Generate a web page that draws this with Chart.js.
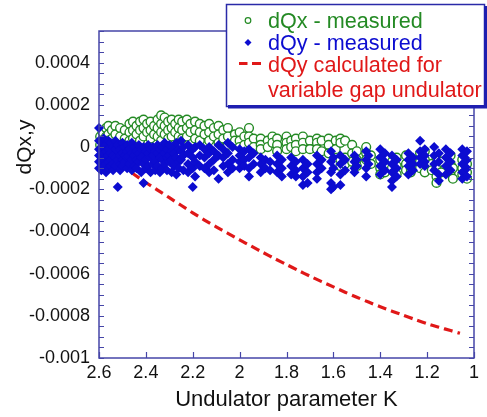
<!DOCTYPE html>
<html>
<head>
<meta charset="utf-8">
<script src="https://cdn.jsdelivr.net/npm/chart.js@4/dist/chart.umd.min.js"></script>
<style>
html,body{margin:0;padding:0;background:#fff;}
#wrap{width:487px;height:417px;position:relative;}
</style>
</head>
<body>
<div id="wrap"><canvas id="c" width="487" height="417"></canvas></div>
<script>
// ---- data ----
const xTicks = [2.6, 2.4, 2.2, 2.0, 1.8, 1.6, 1.4, 1.2, 1.0];
const yTicks = [0.0004, 0.0002, 0, -0.0002, -0.0004, -0.0006, -0.0008, -0.001];

// dQx measured: K columns and the values measured at each
const dqxK = [2.595,2.585,2.57,2.56,2.545,2.53,2.51,2.49,2.47,2.455,2.44,2.425,2.41,2.395,2.38,2.365,2.35,2.335,2.32,2.305,2.29,2.275,2.26,2.245,2.225,2.21,2.19,2.17,2.15,2.13,2.11,2.09,2.07,2.05,2.02,2.0,1.98,1.96,1.94,1.91,1.88,1.86,1.84,1.80,1.78,1.76,1.73,1.70,1.67,1.65,1.62,1.59,1.57,1.55,1.52,1.50,1.46,1.44,1.40,1.38,1.35,1.33,1.29,1.27,1.23,1.21,1.18,1.16,1.14,1.10,1.09,1.05,1.03];
const dqxVals = [
 [5e-5,1e-5],[7e-5,3e-5,0],[9e-5,5e-5,2e-5],[10e-5,6e-5,3e-5],[8e-5,4e-5],[10e-5,6e-5,2e-5],[9e-5,5e-5],[8e-5,4e-5,1e-5],
 [11e-5,7e-5,3e-5],[12e-5,8e-5,4e-5],[10e-5,6e-5],[12e-5,8e-5,3e-5],[13e-5,9e-5,5e-5],[11e-5,7e-5],[12e-5,8e-5,4e-5],[10e-5,6e-5],
 [13e-5,9e-5,5e-5],[15e-5,11e-5,7e-5,3e-5],[14e-5,10e-5,6e-5],[12e-5,8e-5,4e-5],[13e-5,9e-5,5e-5],[11e-5,7e-5],[13e-5,9e-5,5e-5],[12e-5,8e-5,4e-5],
 [13e-5,9e-5,5e-5],[11e-5,7e-5],[12e-5,8e-5,4e-5],[11e-5,7e-5,3e-5],[10e-5,6e-5],[11e-5,7e-5,3e-5],[9e-5,5e-5],[10e-5,6e-5,2e-5],
 [8e-5,4e-5],[9e-5,5e-5,1e-5],[6e-5,3e-5],[7e-5,3e-5,0],[5e-5,1e-5],[9e-5,5e-5,2e-5],[4e-5,0],[4e-5,1e-5,-1e-5],
 [3e-5,0],[5e-5,2e-5],[4e-5,1e-5,-2e-5],[5e-5,2e-5,-1e-5],[3e-5,0],[4e-5,1e-5,-2e-5],[5e-5,2e-5,-1e-5],[3e-5,-1e-5],
 [4e-5,2e-5,-1e-5],[3e-5,-2e-5],[4e-5,1e-5,-3e-5],[3e-5,-1e-5],[4e-5,2e-5,-6e-5,-9e-5],[3e-5,-5e-5,-8e-5],[1e-5,-3e-5,-7e-5],[-2e-5,-6e-5,-9e-5],
 [0,-3e-5,-6e-5],[-4e-5,-8e-5],[-6e-5,-10e-5,-13e-5],[-5e-5,-9e-5,-12e-5],[-7e-5,-10e-5],[-5e-5,-9e-5,-13e-5],[-4e-5,-8e-5,-11e-5],[-6e-5,-10e-5,-12e-5],
 [-3e-5,-7e-5,-10e-5],[-2e-5,-6e-5,-12e-5],[-8e-5,-11e-5],[-5e-5,-10e-5,-14e-5,-17e-5],[-7e-5,-12e-5],[-4e-5,-8e-5,-12e-5],[-10e-5,-15e-5],[-6e-5,-10e-5,-13e-5],
 [-8e-5,-12e-5,-15e-5]
];

// dQy measured
const dqyK = [2.6,2.59,2.58,2.57,2.56,2.55,2.54,2.53,2.52,2.51,2.50,2.49,2.48,2.47,2.46,2.45,2.44,2.43,2.42,2.41,2.40,2.39,2.38,2.37,2.36,2.35,2.34,2.33,2.32,2.31,2.30,2.29,2.28,2.27,2.26,2.25,2.24,2.22,2.20,2.19,2.17,2.15,2.13,2.11,2.09,2.07,2.05,2.03,2.0,1.98,1.96,1.94,1.91,1.89,1.87,1.84,1.82,1.78,1.76,1.73,1.71,1.67,1.65,1.61,1.60,1.57,1.55,1.51,1.50,1.46,1.45,1.40,1.38,1.35,1.33,1.28,1.26,1.23,1.21,1.17,1.15,1.12,1.10,1.05,1.03];
const dqyVals = [
 [9e-5,3e-5,-1e-5,-4e-5,-7e-5,-10e-5],[2e-5,-2e-5,-5e-5,-8e-5,-11e-5],[4e-5,0,-3e-5,-6e-5,-9e-5],[1e-5,-2e-5,-5e-5,-8e-5,-12e-5],
 [3e-5,-1e-5,-4e-5,-7e-5,-10e-5],[2e-5,-3e-5,-6e-5,-9e-5],[0,-4e-5,-8e-5,-11e-5],[3e-5,-1e-5,-5e-5,-9e-5],
 [1e-5,-2e-5,-6e-5,-19e-5],[-1e-5,-4e-5,-8e-5,-11e-5],[2e-5,-3e-5,-6e-5,-9e-5],[0,-4e-5,-7e-5],
 [1e-5,-2e-5,-5e-5,-10e-5],[-1e-5,-5e-5,-8e-5],[2e-5,-3e-5,-6e-5,-11e-5],[0,-4e-5,-9e-5],
 [-2e-5,-6e-5,-10e-5],[1e-5,-3e-5,-7e-5],[-1e-5,-5e-5,-12e-5],[0,-4e-5,-8e-5,-17e-5],
 [-2e-5,-6e-5,-10e-5],[1e-5,-3e-5,-9e-5],[-1e-5,-5e-5,-12e-5],[0,-4e-5,-8e-5],
 [-2e-5,-7e-5,-11e-5],[1e-5,-3e-5,-9e-5],[-1e-5,-5e-5,-12e-5],[0,-6e-5,-10e-5],
 [2e-5,-3e-5,-8e-5],[-1e-5,-5e-5,-11e-5],[1e-5,-4e-5,-7e-5],[-2e-5,-6e-5,-12e-5],
 [0,-3e-5,-9e-5],[2e-5,-5e-5,-13e-5],[-1e-5,-7e-5,-10e-5],[3e-5,-2e-5,-6e-5],
 [0,-4e-5,-11e-5],[1e-5,-3e-5,-8e-5,-12e-5],[-1e-5,-5e-5,-10e-5,-19e-5],[0,-7e-5,-14e-5],
 [1e-5,-4e-5,-9e-5],[-1e-5,-5e-5,-10e-5],[0,-3e-5,-8e-5,-12e-5],[-2e-5,-6e-5,-11e-5],
 [1e-5,-4e-5,-15e-5],[-1e-5,-5e-5,-9e-5],[2e-5,-3e-5,-8e-5,-12e-5],[0,-6e-5,-10e-5],
 [-1e-5,-4e-5,-7e-5,-10e-5],[-2e-5,-6e-5,-9e-5],[-1e-5,-5e-5,-10e-5,-14e-5],[-3e-5,-8e-5],
 [-5e-5,-8e-5,-12e-5],[-6e-5,-10e-5],[-7e-5,-11e-5],[-4e-5,-8e-5,-12e-5],
 [-6e-5,-10e-5,-14e-5],[-5e-5,-9e-5,-13e-5],[-7e-5,-11e-5,-14e-5],[-6e-5,-10e-5,-14e-5,-18e-5],
 [-8e-5,-12e-5,-17e-5],[-4e-5,-8e-5,-12e-5,-15e-5],[-6e-5,-10e-5],[-2e-5,-7e-5,-12e-5,-17e-5,-20e-5],
 [-5e-5,-10e-5,-19e-5],[-4e-5,-8e-5,-13e-5,-18e-5],[-6e-5,-11e-5],[-4e-5,-7e-5,-10e-5,-12e-5],
 [-6e-5,-9e-5],[-2e-5,-6e-5,-10e-5,-14e-5],[-4e-5,-8e-5],[-1e-5,-5e-5,-9e-5,-13e-5],
 [-3e-5,-7e-5,-11e-5],[-4e-5,-8e-5,-12e-5,-16e-5,-19e-5],[-6e-5,-10e-5,-14e-5],[-3e-5,-6e-5,-9e-5,-13e-5],
 [-5e-5,-8e-5,-11e-5],[3e-5,-2e-5,-5e-5,-8e-5],[-1e-5,-4e-5,-7e-5,-9e-5],[0,-4e-5,-8e-5,-11e-5],
 [-3e-5,-7e-5,-13e-5,-16e-5],[-1e-5,-5e-5,-9e-5,-13e-5],[-3e-5,-7e-5,-11e-5],[-1e-5,-4e-5,-8e-5,-12e-5,-15e-5],
 [-2e-5,-6e-5,-10e-5,-14e-5]
];

// dQy calculated for variable gap undulator
const calcK = [2.60,2.55,2.50,2.45,2.40,2.35,2.30,2.25,2.20,2.15,2.10,2.05,2.00,1.95,1.90,1.85,1.80,1.75,1.70,1.65,1.60,1.55,1.50,1.45,1.40,1.35,1.30,1.25,1.20,1.15,1.10,1.06];
const calcDQy = [0,-0.000045,-0.00009,-0.00013,-0.000168,-0.000204,-0.00024,-0.000276,-0.000312,-0.000346,-0.000378,-0.000409,-0.00044,-0.00047,-0.0005,-0.000529,-0.000557,-0.000585,-0.000612,-0.000638,-0.000663,-0.000688,-0.000712,-0.000735,-0.000757,-0.000778,-0.000798,-0.000818,-0.000837,-0.000854,-0.00087,-0.000883];

const legendLabels = ['dQx - measured', 'dQy - measured', 'dQy calculated for', 'variable gap undulator'];

// ---- build points ----
function flatten(ks, cols){
  const out = [];
  ks.forEach((k, i) => cols[i].forEach(v => out.push({x: k, y: v})));
  return out;
}
const greenPts = flatten(dqxK, dqxVals);
const bluePts = flatten(dqyK, dqyVals);
const redPts = calcK.map((k, i) => ({x: k, y: calcDQy[i]}));

const FONT = "'Liberation Sans', Arial, sans-serif";
const AXIS_COLOR = '#4646a8';
const GREEN = '#248a24';
const BLUE = '#0c0cd0';
const RED = '#e01818';

const framePlugin = {
  id: 'frame',
  afterDatasetsDraw(chart) {
    const ctx = chart.ctx;
    const a = chart.chartArea;
    const xs = chart.scales.x, ys = chart.scales.y;
    ctx.save();
    ctx.strokeStyle = AXIS_COLOR;
    ctx.lineWidth = 1.5;
    ctx.strokeRect(a.left, a.top, a.right - a.left, a.bottom - a.top);
    // minor ticks on y (inward, both sides)
    ctx.lineWidth = 1.2;
    ctx.beginPath();
    for (let v = ys.min; v <= ys.max + 1e-12; v += 0.00005) {
      const py = Math.round(ys.getPixelForValue(v)) + 0.5;
      ctx.moveTo(a.left, py); ctx.lineTo(a.left + 5, py);
      ctx.moveTo(a.right, py); ctx.lineTo(a.right - 5, py);
    }
    // x major ticks (inward from bottom)
    xTicks.forEach(k => {
      const px = Math.round(xs.getPixelForValue(k)) + 0.5;
      ctx.moveTo(px, a.bottom); ctx.lineTo(px, a.bottom - 6);
    });
    ctx.stroke();

    // y-axis title
    ctx.fillStyle = '#111';
    ctx.font = '21px ' + FONT;
    ctx.translate(31, ys.getPixelForValue(0));
    ctx.rotate(-Math.PI / 2);
    ctx.textAlign = 'center';
    ctx.textBaseline = 'alphabetic';
    ctx.fillText('dQx,y', 0, 0);
    ctx.restore();

    // legend box
    ctx.save();
    ctx.fillStyle = '#fff';
    ctx.fillRect(226, 4, 261, 103);
    ctx.strokeStyle = '#2a2aa8';
    ctx.lineWidth = 1.5;
    ctx.strokeRect(226.5, 4.5, 258, 102);
    ctx.fillStyle = '#1e1eb0';
    ctx.fillRect(228, 105, 259, 3.5);
    ctx.fillRect(484, 6, 3, 102);

    // symbols
    ctx.strokeStyle = GREEN; ctx.lineWidth = 1.2;
    ctx.beginPath(); ctx.arc(248, 20.5, 2.8, 0, Math.PI * 2); ctx.stroke();
    ctx.fillStyle = BLUE;
    ctx.beginPath(); ctx.moveTo(248, 39); ctx.lineTo(251.5, 42.5); ctx.lineTo(248, 46); ctx.lineTo(244.5, 42.5); ctx.closePath(); ctx.fill();
    ctx.strokeStyle = RED; ctx.lineWidth = 3;
    ctx.beginPath(); ctx.moveTo(239, 63.5); ctx.lineTo(247.5, 63.5); ctx.moveTo(252, 63.5); ctx.lineTo(261, 63.5); ctx.stroke();

    ctx.font = '21.6px ' + FONT;
    ctx.textAlign = 'left';
    ctx.textBaseline = 'alphabetic';
    ctx.fillStyle = GREEN; ctx.fillText(legendLabels[0], 268, 27.5);
    ctx.fillStyle = BLUE; ctx.fillText(legendLabels[1], 268, 49.5);
    ctx.fillStyle = RED; ctx.fillText(legendLabels[2], 268, 71.5);
    ctx.fillText(legendLabels[3], 268, 96.5);
    ctx.restore();
  }
};

Chart.defaults.font.family = FONT;

new Chart(document.getElementById('c'), {
  type: 'scatter',
  data: {
    datasets: [
      { label: legendLabels[1], data: bluePts, pointStyle: 'rectRot', pointRadius: 5,
        backgroundColor: BLUE, borderColor: BLUE, borderWidth: 0, order: 0, clip: false },
      { label: legendLabels[0], data: greenPts, pointStyle: 'circle', pointRadius: 4.4,
        backgroundColor: '#ffffff', borderColor: GREEN, borderWidth: 1.4, order: 1, clip: false },
      { label: legendLabels[2] + ' ' + legendLabels[3], data: redPts, showLine: true, pointRadius: 0,
        borderColor: RED, borderWidth: 3.2, borderDash: [9, 5], tension: 0.3, order: 2, fill: false }
    ]
  },
  options: {
    responsive: false,
    animation: false,
    devicePixelRatio: 1,
    layout: { padding: { top: 31, right: 13, left: 0, bottom: 0 } },
    plugins: { legend: { display: false }, tooltip: { enabled: false } },
    scales: {
      x: {
        type: 'linear', reverse: true, min: 1, max: 2.6,
        afterFit(s) { s.height = 59; },
        grid: { display: false, drawTicks: false },
        border: { display: false },
        afterBuildTicks(s) { s.ticks = xTicks.map(v => ({ value: v })); },
        ticks: {
          padding: 4, color: '#111', maxRotation: 0, autoSkip: false,
          font: { size: 18 },
          callback: v => String(Number(v.toFixed(2)))
        },
        title: { display: true, text: 'Undulator parameter K', color: '#111',
          font: { size: 22 }, padding: { top: 0, bottom: 4 } }
      },
      y: {
        min: -0.001, max: 0.00055,
        afterFit(s) { s.width = 99; },
        grid: { display: false, drawTicks: false },
        border: { display: false },
        afterBuildTicks(s) { s.ticks = yTicks.map(v => ({ value: v })); },
        ticks: {
          padding: 9, color: '#111', font: { size: 18 },
          callback: v => String(Number(v.toFixed(5)))
        }
      }
    }
  },
  plugins: [framePlugin]
});
</script>
</body>
</html>
